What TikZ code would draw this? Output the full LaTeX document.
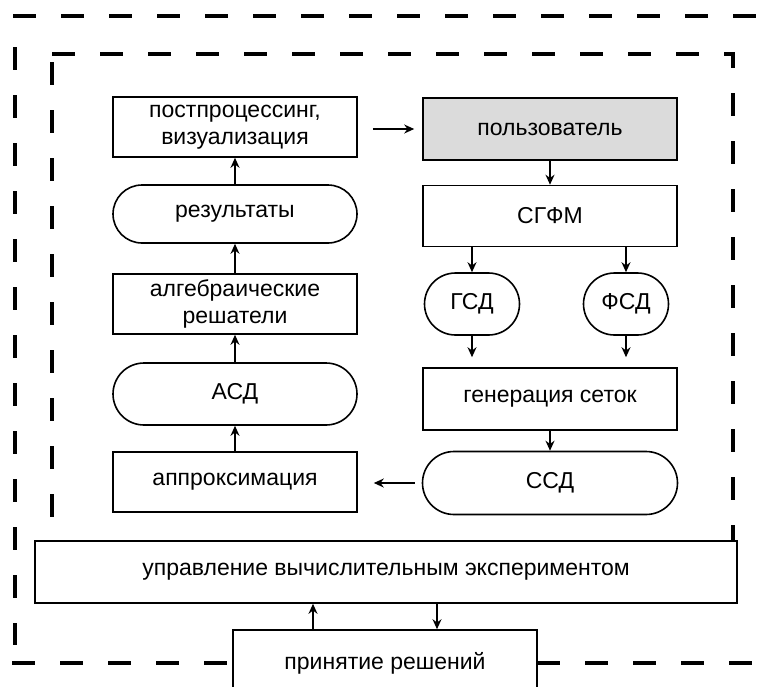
\documentclass[tikz,border=0pt]{standalone}
\usepackage{fontspec}
\setmainfont{Liberation Sans}
\usetikzlibrary{shapes.misc,arrows.meta}
\begin{document}
\begin{tikzpicture}[x=1pt,y=-1pt,
  every node/.style={font=\fontsize{23}{27}\selectfont, inner sep=0pt, align=center},
  boxn/.style={draw, line width=1.6pt, rectangle},
  stad/.style={draw, line width=1.6pt, rounded rectangle},
  arr/.style={line width=1.6pt, -{Stealth[length=10pt,width=9pt]}},
  dsh/.style={line width=3.6pt, dash pattern=on 23pt off 25pt}]
\clip (0,0) rectangle (763,686);
\fill[white] (0,0) rectangle (763,686);
% outer and inner frames
\draw[dsh] (13,16) -- (763,16);
\draw[dsh] (15,47) -- (15,645);
\draw[dsh] (12,663) -- (233,663);
\draw[dsh] (537,663) -- (763,663);
\draw[dsh] (52,54) -- (733,54) -- (733,541);
\draw[dsh] (52,62) -- (52,541);
% left column
\node[boxn, minimum width=244, minimum height=60] (post) at (235,127) {постпроцессинг,\\визуализация};
\node[stad, minimum width=244, minimum height=58] (res) at (235,214) {результаты};
\node[boxn, minimum width=244, minimum height=60] (alg) at (235,304) {алгебраические\\решатели};
\node[stad, minimum width=244, minimum height=62] (asd) at (235,394) {АСД};
\node[boxn, minimum width=244, minimum height=60] (app) at (235,482) {аппроксимация};
% right column
\node[boxn, fill=gray!28, minimum width=254, minimum height=62] (user) at (550,129) {пользователь};
\node[boxn, minimum width=254, minimum height=61] (sgfm) at (550,216) {СГФМ};
\node[stad, minimum width=95, minimum height=62] (gsd) at (472,304) {ГСД};
\node[stad, minimum width=85, minimum height=62] (fsd) at (626,304) {ФСД};
\node[boxn, minimum width=254, minimum height=62] (gen) at (550,399) {генерация сеток};
\node[stad, minimum width=255, minimum height=63] (ssd) at (550,483) {ССД};
% bottom
\node[boxn, minimum width=702, minimum height=62] (upr) at (386,572) {управление вычислительным экспериментом};
\node[boxn, fill=white, minimum width=304, minimum height=80] (prin) at (385,670) {};
\node (printext) at (385,663) {принятие решений};
\coordinate (upx) at (313,0);
\coordinate (dnx) at (437,0);
% arrows
\draw[arr] (app.north) -- (asd.south);
\draw[arr] (asd.north) -- (alg.south);
\draw[arr] (alg.north) -- (res.south);
\draw[arr] (res.north) -- (post.south);
\draw[arr, shorten <=15pt, shorten >=8pt] (post.east |- user.west) -- (user.west);
\draw[arr] (user.south) -- (sgfm.north);
\draw[arr] (sgfm.south -| gsd.north) -- (gsd.north);
\draw[arr] (sgfm.south -| fsd.north) -- (fsd.north);
\draw[arr, shorten >=10pt] (gsd.south) -- (gen.north -| gsd.south);
\draw[arr, shorten >=10pt] (fsd.south) -- (gen.north -| fsd.south);
\draw[arr] (gen.south) -- (ssd.north);
\draw[arr, shorten <=7pt, shorten >=16pt] (ssd.west) -- (app.east |- ssd.west);
\draw[arr] (prin.north -| upx) -- (upr.south -| upx);
\draw[arr] (upr.south -| dnx) -- (prin.north -| dnx);
\end{tikzpicture}
\end{document}
